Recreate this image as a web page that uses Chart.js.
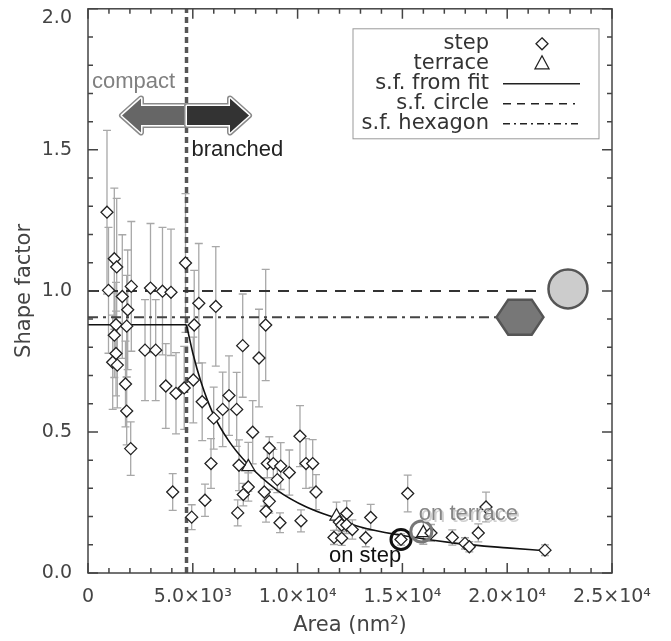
<!DOCTYPE html>
<html>
<head>
<meta charset="utf-8">
<script src="https://cdn.jsdelivr.net/npm/chart.js@4.4.0/dist/chart.umd.min.js"></script>
<style>
  html, body { margin: 0; padding: 0; background: #fff; }
</style>
</head>
<body>
<canvas id="shapeChart" width="671" height="641"></canvas>
<script>
"use strict";
// island area (nm^2) vs shape factor
var stepArea = [906, 1255, 1369, 978, 1636, 2066, 1894, 2982, 3554, 3960, 4652, 1336, 1846, 1255,
  2720, 3230, 1336, 1178, 1398, 5067, 5286, 6097, 8478, 1789, 1846, 2037, 3712, 4198, 4590, 5024,
  5448, 5997, 4041, 4947, 5582, 7381, 8158, 6727, 6426, 7094, 7858, 5868, 7204, 7648, 7409, 7142,
  8650, 8554, 8841, 9194, 9032, 8411, 8650, 8493, 9160, 9604, 10114, 10401, 10720, 10878, 10162,
  12342, 11990, 12104, 12342, 12610, 11737, 12104, 13249, 13488, 15253, 14933, 16364, 17381,
  17987, 18192, 18621, 18989, 21803];
var stepShape = [1.279, 1.114, 1.085, 1.002, 0.98, 1.016, 0.933, 1.01, 0.999, 0.995, 1.099, 0.88,
  0.875, 0.843, 0.79, 0.79, 0.778, 0.747, 0.737, 0.879, 0.956, 0.945, 0.879, 0.67, 0.574, 0.441,
  0.663, 0.637, 0.656, 0.684, 0.607, 0.549, 0.287, 0.198, 0.258, 0.806, 0.762, 0.629, 0.58, 0.58,
  0.499, 0.388, 0.382, 0.305, 0.278, 0.213, 0.443, 0.388, 0.388, 0.379, 0.331, 0.287, 0.254, 0.219,
  0.178, 0.356, 0.485, 0.388, 0.388, 0.287, 0.185, 0.211, 0.181, 0.17, 0.17, 0.154, 0.126, 0.123,
  0.125, 0.197, 0.282, 0.119, 0.142, 0.126, 0.105, 0.093, 0.142, 0.234, 0.081];
var stepErr = [0.29, 0.25, 0.243, 0.223, 0.219, 0.23, 0.212, 0.229, 0.226, 0.224, 0.246, 0.15,
  0.18, 0.15, 0.179, 0.179, 0.15, 0.167, 0.152, 0.194, 0.212, 0.212, 0.197, 0.152, 0.12, 0.095,
  0.15, 0.144, 0.147, 0.152, 0.138, 0.11, 0.065, 0.044, 0.057, 0.183, 0.173, 0.141, 0.132, 0.131,
  0.112, 0.088, 0.09, 0.05, 0.04, 0.046, 0.04, 0.05, 0.05, 0.083, 0.046, 0.05, 0.042, 0.039, 0.035,
  0.08, 0.108, 0.088, 0.085, 0.062, 0.039, 0.045, 0.03, 0.03, 0.03, 0.034, 0.025, 0.025, 0.032,
  0.046, 0.065, 0.02, 0.03, 0.027, 0.02, 0.018, 0.032, 0.053, 0.019];
var terraceArea = [7648, 11856, 15998];
var terraceShape = [0.376, 0.201, 0.142];
var terraceErr = [0.087, 0.05, 0.04];

// shape factor from fit: flat part, then decaying part
var fitFlatArea = [0, 4700];
var fitFlatShape = [0.88, 0.88];
var fitCurveArea = [4700, 5000, 5400, 5964, 6700, 7586, 9000, 10448, 12000, 13000, 15000, 17500, 20000, 21800];
var fitCurveShape = [0.88, 0.78, 0.675, 0.565, 0.47, 0.389, 0.295, 0.233, 0.19, 0.163, 0.133, 0.106, 0.089, 0.079];

var circleSF = 1.0, circleLineEnd = 21560;
var hexagonSF = 0.907, hexagonLineEnd = 19510;
var branchArea = 4700;

var xTicks = [0, 5000, 10000, 15000, 20000, 25000];
var xTickLabels = ["0", "5.0×10³", "1.0×10⁴", "1.5×10⁴", "2.0×10⁴", "2.5×10⁴"];

var onStepIndex = 71;     // index in stepArea
var onTerraceIndex = 2;   // index in terraceArea

var axisFont = { family: "DejaVu Sans", size: 19, lineHeight: 1.0 };
var titleFont = { family: "DejaVu Sans", size: 21 };
var annFont = "22px 'Liberation Sans'";

function pts(xs, ys) {
  return xs.map(function (v, i) { return { x: v, y: ys[i] }; });
}

function drawArrow(ctx, baseX, cy, dir, fill) {
  var bodyLen = 43, tipLen = 62, bh = 9.5, hh = 17;
  ctx.beginPath();
  ctx.moveTo(baseX, cy - bh);
  ctx.lineTo(baseX + dir * bodyLen, cy - bh);
  ctx.lineTo(baseX + dir * bodyLen, cy - hh);
  ctx.lineTo(baseX + dir * tipLen, cy);
  ctx.lineTo(baseX + dir * bodyLen, cy + hh);
  ctx.lineTo(baseX + dir * bodyLen, cy + bh);
  ctx.lineTo(baseX, cy + bh);
  ctx.closePath();
  ctx.lineJoin = "round";
  ctx.strokeStyle = "#8a8a8a"; ctx.lineWidth = 6; ctx.stroke();
  ctx.strokeStyle = "#ffffff"; ctx.lineWidth = 3; ctx.stroke();
  ctx.fillStyle = fill; ctx.fill();
}

var errorBars = {
  id: "errorBars",
  beforeDatasetsDraw: function (chart) {
    var ctx = chart.ctx, x = chart.scales.x, y = chart.scales.y;
    ctx.save();
    ctx.strokeStyle = "#a8a8a8";
    ctx.lineWidth = 1.3;
    chart.data.datasets.forEach(function (ds) {
      if (!ds.errors) return;
      ds.data.forEach(function (p, i) {
        var px = x.getPixelForValue(p.x);
        var top = y.getPixelForValue(p.y + ds.errors[i]);
        var bot = y.getPixelForValue(p.y - ds.errors[i]);
        ctx.beginPath();
        ctx.moveTo(px, top); ctx.lineTo(px, bot);
        ctx.moveTo(px - 4, top); ctx.lineTo(px + 4, top);
        ctx.moveTo(px - 4, bot); ctx.lineTo(px + 4, bot);
        ctx.stroke();
      });
    });
    ctx.restore();
  }
};

var decorations = {
  id: "decorations",
  afterDatasetsDraw: function (chart) {
    var ctx = chart.ctx, x = chart.scales.x, y = chart.scales.y, ca = chart.chartArea;
    ctx.save();

    // reference shapes: circle and hexagon
    var cx = x.getPixelForValue(22900), cy = y.getPixelForValue(1.007);
    ctx.beginPath(); ctx.arc(cx, cy, 19.5, 0, Math.PI * 2);
    ctx.fillStyle = "#cccccc"; ctx.fill();
    ctx.strokeStyle = "#555"; ctx.lineWidth = 2.5; ctx.stroke();
    var hx = x.getPixelForValue(20610), hy = y.getPixelForValue(hexagonSF), r = 23.5;
    ctx.beginPath();
    for (var k = 0; k < 6; k++) {
      var a = k * Math.PI / 3;
      var vx = hx + r * Math.cos(a), vy = hy + r * 0.86 * Math.sin(a);
      if (k === 0) ctx.moveTo(vx, vy); else ctx.lineTo(vx, vy);
    }
    ctx.closePath();
    ctx.fillStyle = "#777777"; ctx.fill();
    ctx.strokeStyle = "#555"; ctx.lineWidth = 2.5; ctx.stroke();

    // compact / branched arrows
    var jx = x.getPixelForValue(branchArea), ay = y.getPixelForValue(1.622);
    drawArrow(ctx, jx - 2.5, ay, -1, "#666666");
    drawArrow(ctx, jx + 0.5, ay, 1, "#333333");
    ctx.font = annFont;
    ctx.textBaseline = "middle";
    ctx.textAlign = "left";
    ctx.fillStyle = "#808080";
    ctx.fillText("compact", ca.left + 4, ay - 33);
    ctx.fillStyle = "#222";
    ctx.fillText("branched", jx + 5, ay + 35);

    // highlighted islands
    var sx = x.getPixelForValue(stepArea[onStepIndex]), sy = y.getPixelForValue(stepShape[onStepIndex]);
    ctx.beginPath(); ctx.arc(sx, sy, 10, 0, Math.PI * 2);
    ctx.strokeStyle = "#111"; ctx.lineWidth = 3; ctx.stroke();
    var tx = x.getPixelForValue(terraceArea[onTerraceIndex]) - 2, ty = y.getPixelForValue(terraceShape[onTerraceIndex]) - 1.5;
    ctx.beginPath(); ctx.arc(tx, ty, 10.5, 0, Math.PI * 2);
    ctx.strokeStyle = "#777"; ctx.lineWidth = 3; ctx.stroke();
    ctx.fillStyle = "#111";
    ctx.fillText("on step", sx - 72, sy + 17);
    ctx.fillStyle = "#d0d0d0";
    ctx.fillText("on terrace", tx - 0.5, ty - 16);
    ctx.fillStyle = "#858585";
    ctx.fillText("on terrace", tx - 2.5, ty - 18);

    ctx.restore();
  },
  afterDraw: function (chart) {
    var ctx = chart.ctx, x = chart.scales.x, y = chart.scales.y, ca = chart.chartArea;
    ctx.save();
    // frame with inward ticks on all sides
    ctx.strokeStyle = "#444";
    ctx.lineWidth = 1.5;
    ctx.strokeRect(ca.left, ca.top, ca.right - ca.left, ca.bottom - ca.top);
    ctx.beginPath();
    for (var v = 0; v <= 25000; v += 1000) {
      var px = x.getPixelForValue(v), len = v % 5000 === 0 ? 10 : 5;
      ctx.moveTo(px, ca.bottom); ctx.lineTo(px, ca.bottom - len);
      ctx.moveTo(px, ca.top); ctx.lineTo(px, ca.top + len);
    }
    for (var k = 0; k <= 20; k++) {
      var py = y.getPixelForValue(k / 10), l = k % 5 === 0 ? 10 : 5;
      ctx.moveTo(ca.left, py); ctx.lineTo(ca.left + l, py);
      ctx.moveTo(ca.right, py); ctx.lineTo(ca.right - l, py);
    }
    ctx.stroke();

    // legend box
    var bl = ca.right - 259, bt = ca.top + 20, bw = 246, bh = 110;
    ctx.fillStyle = "#fff";
    ctx.fillRect(bl, bt, bw, bh);
    ctx.strokeStyle = "#999"; ctx.lineWidth = 1;
    ctx.strokeRect(bl, bt, bw, bh);
    var labels = ["step", "terrace", "s.f. from fit", "s.f. circle", "s.f. hexagon"];
    ctx.font = "21px 'DejaVu Sans'";
    ctx.fillStyle = "#333";
    ctx.textAlign = "right";
    ctx.textBaseline = "middle";
    labels.forEach(function (t, i) {
      ctx.fillText(t, bl + 136, bt + 15 + i * 20);
    });
    var sx = bl + 189;
    ctx.strokeStyle = "#222"; ctx.lineWidth = 1.3;
    ctx.beginPath();
    ctx.moveTo(sx, bt + 9); ctx.lineTo(sx + 6, bt + 15); ctx.lineTo(sx, bt + 21); ctx.lineTo(sx - 6, bt + 15); ctx.closePath();
    ctx.stroke();
    ctx.beginPath();
    ctx.moveTo(sx, bt + 27); ctx.lineTo(sx + 7, bt + 40); ctx.lineTo(sx - 7, bt + 40); ctx.closePath();
    ctx.stroke();
    var lx0 = bl + 150, lx1 = bl + 227;
    ctx.lineWidth = 1.6;
    ctx.beginPath(); ctx.moveTo(lx0, bt + 55); ctx.lineTo(lx1, bt + 55); ctx.stroke();
    ctx.setLineDash([8, 6]);
    ctx.beginPath(); ctx.moveTo(lx0, bt + 75); ctx.lineTo(lx1 - 5, bt + 75); ctx.stroke();
    ctx.setLineDash([7, 4, 2, 4]);
    ctx.beginPath(); ctx.moveTo(lx0, bt + 95); ctx.lineTo(lx1, bt + 95); ctx.stroke();
    ctx.restore();
  }
};

var chart = new Chart(document.getElementById("shapeChart"), {
  type: "scatter",
  data: {
    datasets: [
      {
        label: "step",
        data: pts(stepArea, stepShape),
        errors: stepErr,
        pointStyle: "rectRot",
        radius: 6,
        backgroundColor: "#ffffff",
        borderColor: "#222",
        borderWidth: 1.3,
        order: 0
      },
      {
        label: "terrace",
        data: pts(terraceArea, terraceShape),
        errors: terraceErr,
        pointStyle: "triangle",
        radius: 7.5,
        backgroundColor: "#ffffff",
        borderColor: "#222",
        borderWidth: 1.3,
        order: 1
      },
      {
        label: "s.f. from fit",
        data: pts(fitFlatArea, fitFlatShape),
        showLine: true, radius: 0, borderColor: "#111", borderWidth: 1.6,
        order: 5
      },
      {
        label: "s.f. from fit curve",
        data: pts(fitCurveArea, fitCurveShape),
        showLine: true, radius: 0, borderColor: "#111", borderWidth: 1.6,
        cubicInterpolationMode: "monotone",
        order: 5
      },
      {
        label: "s.f. circle",
        data: [{ x: 0, y: circleSF }, { x: circleLineEnd, y: circleSF }],
        showLine: true, radius: 0, borderColor: "#333", borderWidth: 2,
        borderDash: [11, 8],
        order: 6
      },
      {
        label: "s.f. hexagon",
        data: [{ x: 0, y: hexagonSF }, { x: hexagonLineEnd, y: hexagonSF }],
        showLine: true, radius: 0, borderColor: "#444", borderWidth: 2,
        borderDash: [10, 5, 3, 5],
        order: 6
      },
      {
        label: "compact/branched",
        data: [{ x: branchArea, y: 0 }, { x: branchArea, y: 2 }],
        showLine: true, radius: 0, borderColor: "#555", borderWidth: 3.5,
        borderDash: [6, 4],
        order: 7
      }
    ]
  },
  options: {
    responsive: false,
    animation: false,
    layout: { padding: { top: 7, right: 59, left: 0, bottom: 0 } },
    plugins: { legend: { display: false }, tooltip: { enabled: false } },
    scales: {
      x: {
        type: "linear",
        min: 0,
        max: 25000,
        afterBuildTicks: function (s) { s.ticks = xTicks.map(function (v) { return { value: v }; }); },
        afterFit: function (s) { s.height = 68; s.paddingLeft = 0; s.paddingRight = 0; },
        grid: { display: false },
        border: { display: false },
        ticks: {
          autoSkip: false, maxRotation: 0, padding: 7, color: "#444", font: axisFont,
          callback: function (v) { return xTickLabels[xTicks.indexOf(v)]; }
        },
        title: { display: true, text: "Area (nm²)", color: "#444", font: titleFont, padding: { top: 0, bottom: 3 } }
      },
      y: {
        type: "linear",
        min: 0,
        max: 2,
        afterFit: function (s) { s.width = 88; s.paddingTop = 0; s.paddingBottom = 0; },
        grid: { display: false },
        border: { display: false },
        ticks: {
          stepSize: 0.5, padding: 8, color: "#444", font: axisFont,
          callback: function (v) { return v === 2 ? ["", "2.0"] : v.toFixed(1); }
        },
        title: { display: true, text: "Shape factor", color: "#444", font: titleFont, padding: { top: 12, bottom: 0 } }
      }
    }
  },
  plugins: [errorBars, decorations]
});
</script>
</body>
</html>
